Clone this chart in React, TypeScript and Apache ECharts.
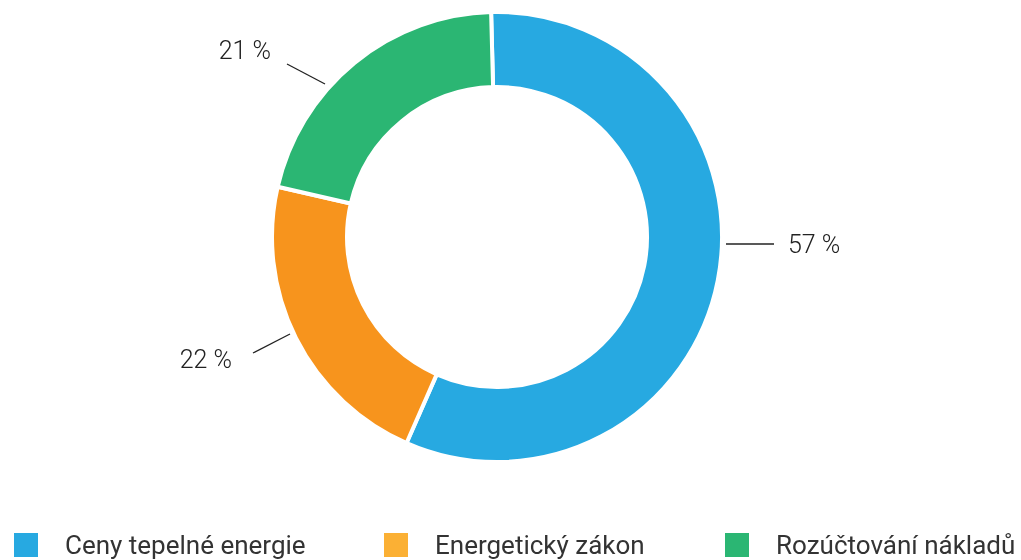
import React, { useEffect, useRef } from "react";
import * as echarts from "echarts";

const categories = ["Ceny tepelné energie", "Energetický zákon", "Rozúčtování nákladů"];
const values = [57, 22, 21];
const sliceColors = ["#27a9e1", "#f7941d", "#2bb673"];
const legendColors = ["#27a9e1", "#fbb034", "#2bb673"];

// label placement (layout only)
const labelLayouts = [
  { line: [[726, 244], [774, 244]], x: 788, y: 244, align: "left" },
  { line: [[290, 334], [253, 353]], x: 232, y: 359, align: "right" },
  { line: [[325, 84], [287, 64]], x: 271, y: 50, align: "right" },
];
const legendLefts = [12, 382, 723];

export default function App() {
  const ref = useRef<HTMLDivElement>(null);
  useEffect(() => {
    const chart = echarts.init(ref.current!, null, { renderer: "svg" });
    chart.setOption({
      animation: false,
      legend: categories.map((name, i) => ({
        data: [{ name, itemStyle: { color: legendColors[i] } }],
        left: legendLefts[i],
        top: 531,
        padding: 0,
        itemWidth: 26,
        itemHeight: 26,
        icon: "rect",
        selectedMode: false,
        textStyle: {
          fontFamily: "Roboto",
          fontSize: 26,
          lineHeight: 28,
          color: "#333",
          padding: [0, 0, 0, 21],
        },
      })),
      series: [
        {
          type: "pie",
          center: [497, 237],
          radius: [150, 225],
          startAngle: 91.5,
          clockwise: true,
          itemStyle: { borderColor: "#fff", borderWidth: 4 },
          label: {
            show: true,
            position: "outside",
            formatter: (p: any) => `${p.value} %`,
            fontFamily: "Roboto",
            fontWeight: 300,
            fontSize: 25,
            color: "#222",
          },
          labelLine: {
            show: true,
            length: 20,
            length2: 20,
            lineStyle: { color: "#222", width: 1.3 },
          },
          labelLayout: (params: any) => {
            const l = labelLayouts[params.dataIndex];
            return {
              x: l.x,
              y: l.y,
              align: l.align,
              verticalAlign: "middle",
              labelLinePoints: [l.line[0], l.line[1], l.line[1]],
            };
          },
          data: categories.map((name, i) => ({
            name,
            value: values[i],
            itemStyle: { color: sliceColors[i] },
          })),
        },
      ],
    });
    return () => chart.dispose();
  }, []);
  return (
    <div
      ref={ref}
      style={{ position: "fixed", left: 0, top: 0, width: 1021, height: 560 }}
    />
  );
}
